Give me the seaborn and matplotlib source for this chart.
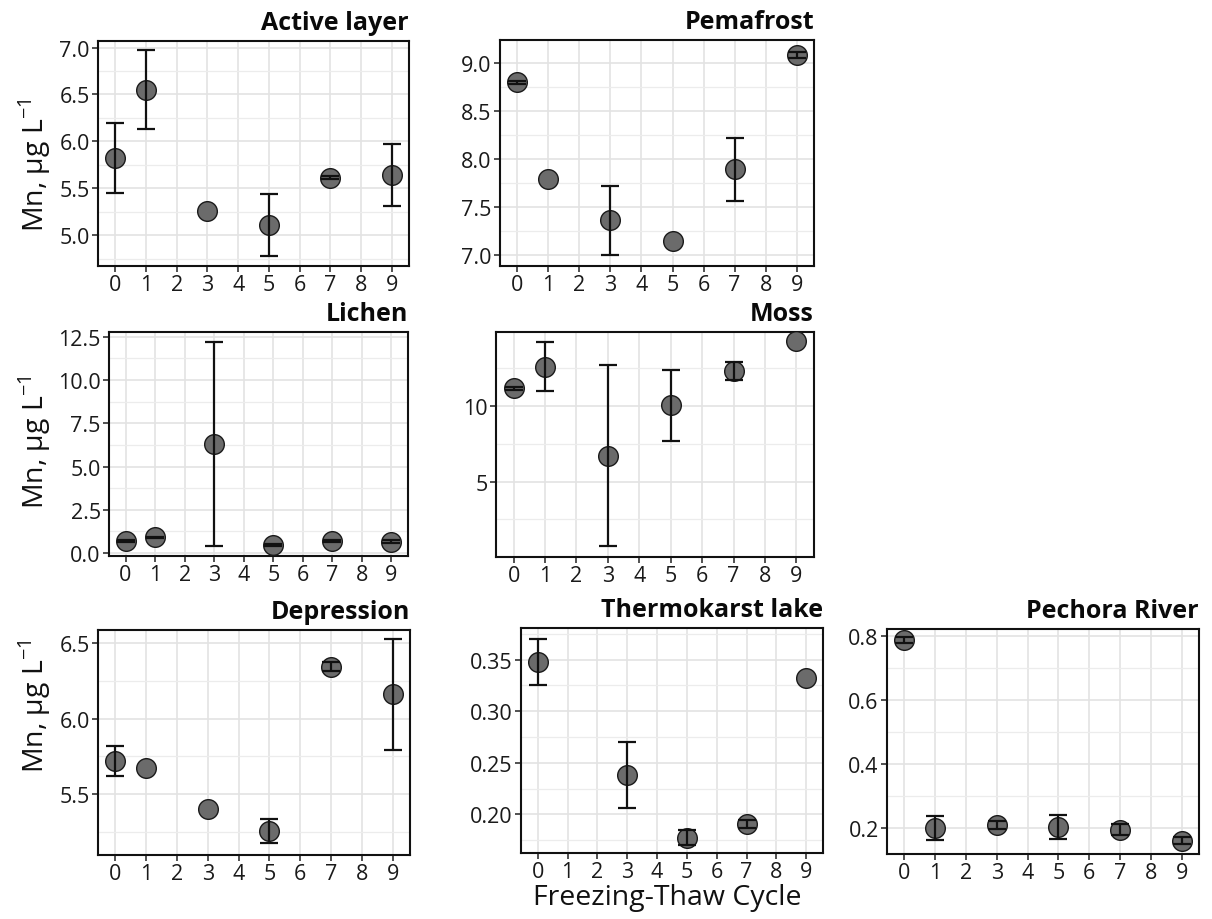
import numpy as np
import pandas as pd
import seaborn as sns
import matplotlib.pyplot as plt
from matplotlib.ticker import MultipleLocator, FixedLocator

# циклы замораживания-оттаивания
cycles = [0, 1, 3, 5, 7, 9]

# средние значения Mn и стандартные отклонения по каждому типу образца
active_mean = [5.82, 6.55, 5.255, 5.11, 5.614, 5.64]
active_sd = [0.375, 0.42, 0.0, 0.33, 0.02, 0.33]

perma_mean = [8.80, 7.79, 7.36, 7.143, 7.893, 9.087]
perma_sd = [0.02, 0.0, 0.36, 0.0, 0.325, 0.03]

lichen_mean = [0.71, 0.906, 6.30, 0.46, 0.71, 0.655]
lichen_sd = [0.05, 0.05, 5.91, 0.05, 0.05, 0.1]

moss_mean = [11.17, 12.58, 6.72, 10.04, 12.31, 14.27]
moss_sd = [0.1, 1.62, 5.96, 2.35, 0.6, 0.0]

depr_mean = [5.717, 5.675, 5.40, 5.252, 6.343, 6.162]
depr_sd = [0.1, 0.0, 0.0, 0.08, 0.03, 0.367]

lake_mean = [0.348, None, 0.2381, 0.1774, 0.1906, 0.3319]
lake_sd = [0.0225, None, 0.032, 0.007, 0.004, 0.0]

river_mean = [0.7865, 0.200, 0.2094, 0.204, 0.1948, 0.1605]
river_sd = [0.01, 0.037, 0.0135, 0.038, 0.018, 0.01]

panels = [
    # title, means, sds, pixel box (left, right, top, bottom), ylim, major step, ylabel centre (px) or None
    ("Active layer", active_mean, active_sd, (98, 409, 42, 267), (4.67, 7.07), 0.5, 165),
    ("Pemafrost", perma_mean, perma_sd, (500, 814, 41, 267), (6.885, 9.243), 0.5, None),
    ("Lichen", lichen_mean, lichen_sd, (109, 408, 333, 557), (-0.17, 12.77), 2.5, 442),
    ("Moss", moss_mean, moss_sd, (496, 814, 333, 558), (0.02, 14.89), 5, None),
    ("Depression", depr_mean, depr_sd, (98, 410, 631, 856), (5.095, 6.588), 0.5, 706),
    ("Thermokarst lake", lake_mean, lake_sd, (521, 823, 629, 854), (0.1625, 0.3807), 0.05, None),
    ("Pechora River", river_mean, river_sd, (887, 1199, 630, 855), (0.119, 0.821), 0.2, None),
]

sns.set_theme(style="white")
plt.rcParams['font.family'] = ['Open Sans', 'DejaVu Sans']
plt.rcParams['mathtext.fontset'] = 'custom'
plt.rcParams['mathtext.rm'] = 'Open Sans'

W, H = 1212, 920
fig = plt.figure(figsize=(W / 100, H / 100), dpi=100)

for title, means, sds, box, ylim, step, ylab_y in panels:
    l, r, t, b = box
    ax = fig.add_axes([l / W, 1 - b / H, (r - l) / W, (b - t) / H])

    df = pd.DataFrame({"cycle": cycles, "mn": means, "sd": sds}).dropna()

    ax.set_xlim(-0.56, 9.56)
    ax.set_ylim(*ylim)
    ax.xaxis.set_major_locator(FixedLocator(range(10)))
    ax.yaxis.set_major_locator(MultipleLocator(step))
    ax.yaxis.set_minor_locator(MultipleLocator(step / 2))
    if title == "Moss":
        ax.yaxis.set_major_locator(FixedLocator([5, 10]))
        ax.yaxis.set_minor_locator(FixedLocator([2.5, 7.5, 12.5]))
    if step == 0.5:
        ax.yaxis.set_major_formatter(lambda v, p: f"{v:.1f}")

    ax.grid(True, which="major", color="#e3e3e3", linewidth=1.2)
    ax.grid(True, which="minor", axis="y", color="#ececec", linewidth=0.9)
    ax.set_axisbelow(True)

    sns.scatterplot(data=df, x="cycle", y="mn", ax=ax, s=200, color="#6b6b6b",
                    edgecolor="#1a1a1a", linewidth=1.0, zorder=3, legend=False)
    err = df[df["sd"] > 0]
    ax.errorbar(err["cycle"], err["mn"], yerr=err["sd"], fmt="none", ecolor="#111111",
                elinewidth=1.6, capsize=6.5, capthick=1.6, zorder=4)

    for s in ax.spines.values():
        s.set_visible(True)
        s.set_color("#111111")
        s.set_linewidth(1.5)

    ax.tick_params(axis="both", which="major", length=4, width=1.1, color="#222222",
                   labelsize=15.5, labelcolor="#1a1a1a", pad=2, bottom=True, left=True)
    ax.tick_params(axis="both", which="minor", length=0)
    ax.set_xlabel("")
    ax.set_ylabel("")
    ax.set_title(title, loc="right", fontsize=18, fontweight="bold", pad=8.5, color="#0a0a0a")

    if ylab_y is not None:
        fig.text(35 / W, 1 - ylab_y / H, r"Mn, µg L$^{-1}$", rotation=90,
                 ha="center", va="center", fontsize=20.5, color="#111111")

fig.text(667 / W, 1 - 898 / H, "Freezing-Thaw Cycle", ha="center", va="center",
         fontsize=20.5, color="#111111")

fig.savefig("out.png", dpi=100)
